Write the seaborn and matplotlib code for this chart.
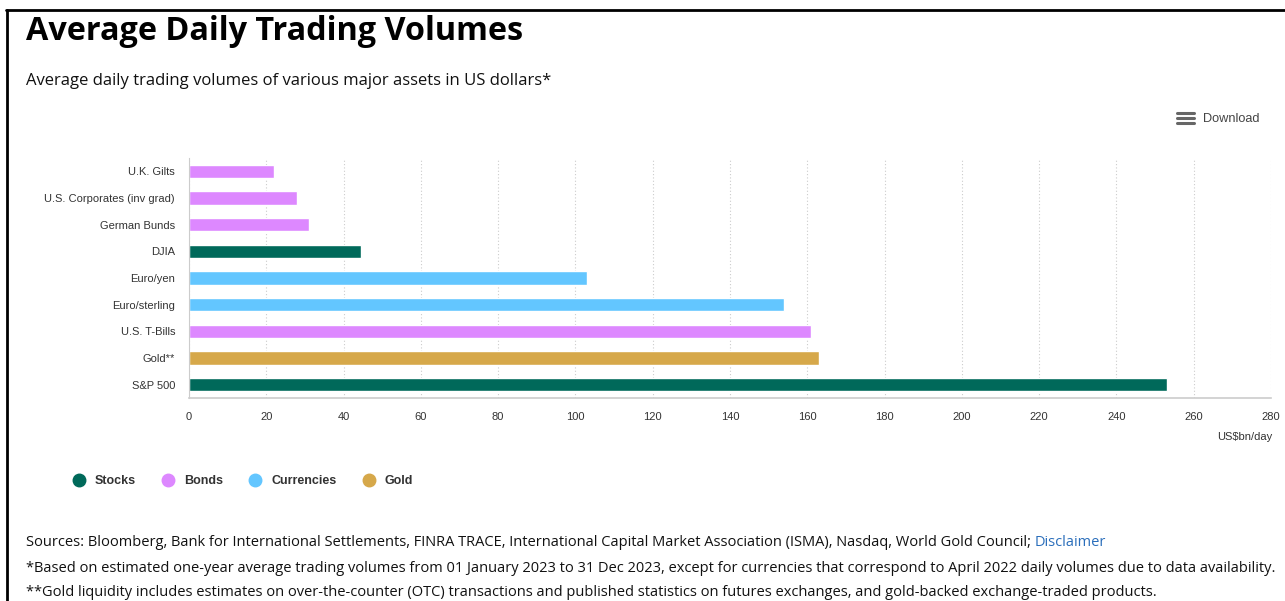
import matplotlib
matplotlib.use("Agg")
import matplotlib.pyplot as plt
import seaborn as sns
import pandas as pd
from matplotlib.lines import Line2D

categories = ["U.K. Gilts", "U.S. Corporates (inv grad)", "German Bunds", "DJIA",
              "Euro/yen", "Euro/sterling", "U.S. T-Bills", "Gold**", "S&P 500"]
values = [22, 28, 31, 44.5, 103, 154, 161, 163, 253]
groups = ["Bonds", "Bonds", "Bonds", "Stocks", "Currencies", "Currencies", "Bonds", "Gold", "Stocks"]
legend_order = ["Stocks", "Bonds", "Currencies", "Gold"]
group_colors = {"Stocks": "#00695A", "Bonds": "#DD88FF", "Currencies": "#63C6FF", "Gold": "#D6A84A"}
x_ticks = list(range(0, 281, 20))

df = pd.DataFrame({"category": categories, "value": values, "group": groups})

sns.set_style("white")
plt.rcParams["font.family"] = ["Liberation Sans", "DejaVu Sans"]

fig = plt.figure(figsize=(12.85, 6.01), dpi=100)
ax = fig.add_axes([189/1285, 1-398/601, (1271-189)/1285, 240/601])

sns.barplot(data=df, y="category", x="value", hue="group", palette=group_colors,
            dodge=False, width=0.5, orient="h", ax=ax, legend=False, saturation=1)

ax.set_xlim(0, 280)
ax.set_ylim(8.5, -0.5)
ax.set_xticks(x_ticks)
ax.set_xticklabels([str(t) for t in x_ticks], fontsize=8, color="#333333")
ax.tick_params(axis="y", labelsize=8, labelcolor="#333333", length=0, pad=10)
ax.tick_params(axis="x", length=0, pad=10)
ax.set_xlabel("")
ax.set_ylabel("")
ax.xaxis.grid(True, color="#cccccc", linestyle=(0, (1, 2)), linewidth=0.8)
ax.yaxis.grid(False)
ax.set_axisbelow(True)
for s in ["top", "right"]:
    ax.spines[s].set_visible(False)
ax.spines["left"].set_color("#cccccc")
ax.spines["bottom"].set_color("#cccccc")
ax.spines["bottom"].set_linewidth(1.2)

fig.text(1272/1285, 1-437/601, "US$bn/day", ha="right", va="center", fontsize=8, color="#333333")

# Titles
fig.text(26/1285, 1-31/601, "Average Daily Trading Volumes", fontsize=23.3, fontweight="bold",
         family="Open Sans", ha="left", va="center", color="black")
fig.text(26/1285, 1-81/601, "Average daily trading volumes of various major assets in US dollars*",
         fontsize=12, family="Open Sans", ha="left", va="center", color="#111111")

# Download button
for dy in (-5, 0, 5):
    fig.add_artist(Line2D([1177/1285, 1194/1285], [1-(118+dy)/601]*2, color="#666666", linewidth=2.2))
fig.text(1203/1285, 1-119/601, "Download", fontsize=9.2, color="#444444", ha="left", va="center")

# Legend
handles = [Line2D([0], [0], marker="o", linestyle="none", markersize=9,
                  markerfacecolor=group_colors[g], markeredgecolor=group_colors[g]) for g in legend_order]
leg = fig.legend(handles, legend_order, loc="center left", bbox_to_anchor=(55/1285, 1-481/601),
                 ncol=4, frameon=False, handletextpad=0.3, columnspacing=1.55,
                 prop={"family": "Liberation Sans", "weight": "bold", "size": 9})
for t in leg.get_texts():
    t.set_color("#333333")

# Footnotes
fs = 10.5
src = fig.text(26/1285, 1-543/601, "Sources: Bloomberg, Bank for International Settlements, FINRA TRACE, International Capital Market Association (ISMA), Nasdaq, World Gold Council; ",
               fontsize=fs, family="Open Sans", ha="left", va="center", color="#111111")
fig.canvas.draw()
bb = src.get_window_extent()
fig.text(bb.x1/fig.bbox.width, 1-543/601, "Disclaimer", fontsize=fs, family="Open Sans",
         ha="left", va="center", color="#2a6ebb")
fig.text(26/1285, 1-568/601, "*Based on estimated one-year average trading volumes from 01 January 2023 to 31 Dec 2023, except for currencies that correspond to April 2022 daily volumes due to data availability.",
         fontsize=fs, family="Open Sans", ha="left", va="center", color="#111111")
fig.text(26/1285, 1-592/601, "**Gold liquidity includes estimates on over-the-counter (OTC) transactions and published statistics on futures exchanges, and gold-backed exchange-traded products.",
         fontsize=fs, family="Open Sans", ha="left", va="center", color="#111111")

# Border lines (top and left)
fig.add_artist(Line2D([6/1285, 1], [1-10/601]*2, color="black", linewidth=2))
fig.add_artist(Line2D([7/1285]*2, [1-10/601, 0], color="black", linewidth=2))

fig.savefig("out.png", dpi=100)
